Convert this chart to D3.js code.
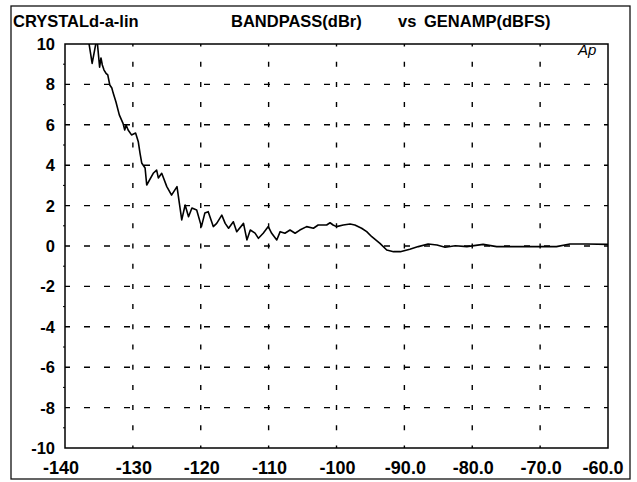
<!DOCTYPE html>
<html>
<head>
<meta charset="utf-8">
<script src="https://cdn.jsdelivr.net/npm/d3@7"></script>
<style>
  body { margin: 0; background: #fff; }
  svg { display: block; font-family: "Liberation Sans", Arial, sans-serif; }
</style>
</head>
<body>
<script>
// x ticks (GENAMP dBFS) and their printed labels
const xTicks = [-140, -130, -120, -110, -100, -90, -80, -70, -60];
const xLabels = ["-140", "-130", "-120", "-110", "-100", "-90.0", "-80.0", "-70.0", "-60.0"];
const yTicks = [10, 8, 6, 4, 2, 0, -2, -4, -6, -8, -10];

// BANDPASS (dBr)
const genamp = [-137.2, -136.5, -136.0, -135.3, -134.9, -134.7, -134.5, -134.25, -133.96, -133.7, -133.4, -133.1,
  -132.9, -132.5, -132.0, -131.45, -131.2, -131.0, -130.7, -130.2, -129.6, -129.2, -128.95, -128.7, -128.2,
  -127.96, -127.0, -126.5, -126.25, -125.75, -125.0, -124.3, -123.5, -122.8, -122.3, -121.8, -121.3, -120.6,
  -119.9, -119.4, -118.9, -118.15, -117.65, -116.9, -116.4, -115.9, -115.2, -114.7, -113.7, -113.2, -112.7,
  -112.0, -111.5, -110.8, -110.05, -109.55, -108.8, -108.3, -107.6, -106.85, -106.1, -105.4, -104.4, -103.4,
  -102.7, -102.2, -101.45, -100.95, -100.5, -100.0, -99.0, -98.0, -97.3, -96.3, -95.55, -94.8, -93.6, -92.6,
  -91.6, -90.6, -89.2, -87.95, -86.5, -85.2, -84.0, -82.5, -80.8, -78.4, -76.4, -74.0, -71.5, -69.5, -67.6,
  -65.6, -63.1, -60.0];
const bandpass = [11.5, 10.1, 9.04, 10.3, 8.85, 9.31, 8.96, 8.71, 8.55, 8.47, 7.97, 7.82,
  7.57, 7.14, 6.49, 6.07, 5.74, 5.99, 5.74, 5.50, 5.59, 5.16, 4.60, 4.11, 3.86,
  3.02, 3.60, 3.76, 3.37, 3.60, 2.94, 2.52, 2.94, 1.29, 2.03, 1.45, 1.88, 1.78,
  0.96, 1.63, 1.70, 0.96, 1.12, 1.53, 1.12, 0.88, 1.20, 0.71, 1.12, 0.30, 0.79,
  0.64, 0.38, 0.63, 0.96, 0.63, 0.30, 0.71, 0.63, 0.79, 0.63, 0.79, 0.96, 0.88,
  1.04, 1.04, 1.04, 1.15, 1.04, 0.96, 1.04, 1.09, 1.04, 0.88, 0.71, 0.46, 0.13, -0.20,
  -0.28, -0.28, -0.16, -0.03, 0.10, 0.05, -0.06, 0.01, -0.03, 0.08, -0.03, -0.03, -0.03, -0.03, -0.03,
  0.10, 0.10, 0.08];

const W = 637, H = 482;
const plot = {left: 65, top: 44, right: 608, bottom: 448};

const svg = d3.select("body").append("svg")
  .attr("width", W)
  .attr("height", H);

// outer frame
svg.append("rect")
  .attr("x", 11).attr("y", 6)
  .attr("width", 619).attr("height", 473)
  .attr("fill", "none")
  .attr("stroke", "#111")
  .attr("stroke-width", 1.3);

const x = d3.scaleLinear().domain([-140, -60]).range([plot.left, plot.right]);
const y = d3.scaleLinear().domain([-10, 10]).range([plot.bottom, plot.top]);

// title row
const title = svg.append("g").attr("font-size", 16.5).attr("font-weight", "bold");
title.append("text").attr("x", 13).attr("y", 27).text("CRYSTALd-a-lin");
title.append("text").attr("x", 231).attr("y", 27).text("BANDPASS(dBr)");
title.append("text").attr("x", 398).attr("y", 27).text("vs");
title.append("text").attr("x", 424).attr("y", 27).text("GENAMP(dBFS)");

// dashed grid
const grid = svg.append("g").attr("stroke", "#000").attr("stroke-width", 1.4);

grid.selectAll(".hgrid")
  .data(yTicks.slice(1, -1))
  .enter().append("line")
  .attr("class", "hgrid")
  .attr("x1", plot.left).attr("x2", plot.right)
  .attr("y1", d => y(d)).attr("y2", d => y(d))
  .attr("stroke-dasharray", "6,14")
  .attr("stroke-dashoffset", 1);

grid.selectAll(".vgrid")
  .data(xTicks.slice(1, -1))
  .enter().append("line")
  .attr("class", "vgrid")
  .attr("x1", d => x(d)).attr("x2", d => x(d))
  .attr("y1", plot.top).attr("y2", plot.bottom)
  .attr("stroke-dasharray", "5,15.2")
  .attr("stroke-dashoffset", 2.5);

// small ticks on left edge
svg.append("g").selectAll("line")
  .data(d3.range(-9, 10, 2))
  .enter().append("line")
  .attr("x1", plot.left - 2).attr("x2", plot.left)
  .attr("y1", d => y(d)).attr("y2", d => y(d))
  .attr("stroke", "#000");

// plot box
svg.append("rect")
  .attr("x", plot.left).attr("y", plot.top)
  .attr("width", plot.right - plot.left)
  .attr("height", plot.bottom - plot.top)
  .attr("fill", "none")
  .attr("stroke", "#000")
  .attr("stroke-width", 1.5);

// y labels
svg.append("g").selectAll("text")
  .data(yTicks)
  .enter().append("text")
  .attr("x", 55)
  .attr("y", d => y(d))
  .attr("dy", "0.36em")
  .attr("text-anchor", "end")
  .attr("font-size", 16.5)
  .attr("font-weight", "bold")
  .text(d => d);

// x labels (end ones pulled inside the frame)
svg.append("g").selectAll("text")
  .data(xTicks)
  .enter().append("text")
  .attr("x", (d, i) => x(d) + (i === 0 ? -4 : i === xTicks.length - 1 ? -5 : 1))
  .attr("y", 474)
  .attr("text-anchor", "middle")
  .attr("font-size", 18)
  .attr("font-weight", "bold")
  .text((d, i) => xLabels[i]);

svg.append("text")
  .attr("x", 578).attr("y", 55)
  .attr("font-size", 15)
  .attr("font-style", "italic")
  .text("Ap");

// the trace
svg.append("clipPath").attr("id", "clip")
  .append("rect")
  .attr("x", plot.left).attr("y", plot.top)
  .attr("width", plot.right - plot.left)
  .attr("height", plot.bottom - plot.top);

const line = d3.line()
  .x((d, i) => x(genamp[i]))
  .y(d => y(d));

svg.append("path")
  .datum(bandpass)
  .attr("clip-path", "url(#clip)")
  .attr("fill", "none")
  .attr("stroke", "#000")
  .attr("stroke-width", 1.6)
  .attr("stroke-linejoin", "round")
  .attr("d", line);
</script>
</body>
</html>
